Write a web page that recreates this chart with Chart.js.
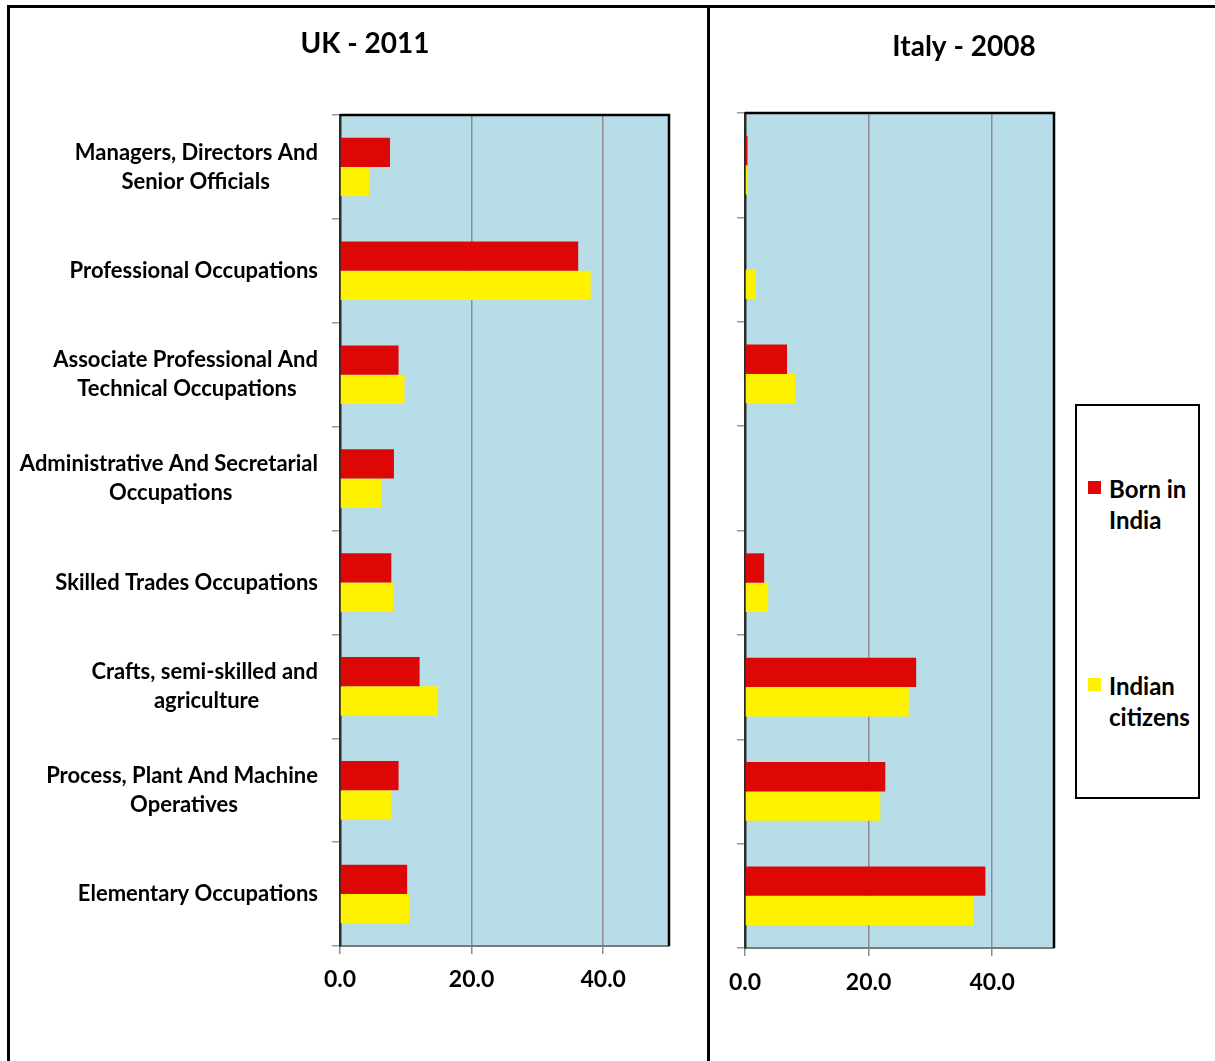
<!DOCTYPE html>
<html>
<head>
<meta charset="utf-8">
<script src="https://cdn.jsdelivr.net/npm/chart.js@4/dist/chart.umd.min.js"></script>
<style>
  html, body { margin: 0; padding: 0; background: #fff; width: 1215px; height: 1061px; overflow: hidden; }
  #ukWrap { position: absolute; left: 0; top: 0; width: 730px; height: 1061px; }
  #itWrap { position: absolute; left: 713px; top: 0; width: 502px; height: 1061px; }
  #frame { position: absolute; left: 7px; top: 5px; width: 1300px; height: 1200px;
           border-top: 3px solid #000; border-left: 3px solid #000; pointer-events: none; }
  #divider { position: absolute; left: 707px; top: 5px; width: 3px; height: 1100px; background: #000; }
  #legend { position: absolute; left: 1075px; top: 404px; width: 121px; height: 391px;
            border: 2px solid #000; background: #fff; font-family: Lato, sans-serif; }
  .swatch { position: absolute; left: 11px; width: 13px; height: 13px; }
  .ltext { position: absolute; left: 32px; font-weight: bold; font-size: 24px; line-height: 31px; color: #000; white-space: nowrap; }
</style>
</head>
<body>
<div id="ukWrap"><canvas id="uk" width="730" height="1061"></canvas></div>
<div id="itWrap"><canvas id="it" width="502" height="1061"></canvas></div>
<div id="frame"></div>
<div id="divider"></div>
<div id="legend"></div>
<script>
// Occupation groups (top to bottom)
const categories = [
  ['Managers, Directors And', 'Senior Officials'],
  'Professional Occupations',
  ['Associate Professional And', 'Technical Occupations'],
  ['Administrative And Secretarial', 'Occupations'],
  'Skilled Trades Occupations',
  ['Crafts, semi-skilled and', 'agriculture'],
  ['Process, Plant And Machine', 'Operatives'],
  'Elementary Occupations'
];

const seriesNames = ['Born in India', 'Indian citizens'];
const legendLines = [['Born in', 'India'], ['Indian', 'citizens']];

// UK - 2011 (%)
const ukBornInIndia    = [7.6, 36.2, 8.9, 8.2, 7.8, 12.1, 8.9, 10.2];
const ukIndianCitizens = [4.4, 38.1, 9.8, 6.3, 8.1, 14.9, 7.8, 10.5];

// Italy - 2008 (%)
const itBornInIndia    = [0.4, 0, 6.8, 0, 3.1, 27.7, 22.7, 38.9];
const itIndianCitizens = [0.4, 1.7, 8.1, 0, 3.75, 26.5, 21.9, 37.0];

const xTickValues = [0, 20, 40];
const xMax = 50;

const RED = '#dd0806';
const YELLOW = '#fff200';
const PLOT_BG = '#b7dde8';

const LABEL_SIZE = 22;
const TICK_SIZE = 23;
const TITLE_SIZE = 28;

Chart.defaults.font.family = 'Lato, sans-serif';
Chart.defaults.color = '#000';

// Multi-line category labels: centre each line within its own block
function centreLines(label, font) {
  if (!Array.isArray(label)) return label;
  const ctx = document.createElement('canvas').getContext('2d');
  ctx.font = font;
  const widths = label.map(l => ctx.measureText(l).width);
  const max = Math.max(...widths);
  const sp = ctx.measureText(' ').width;
  return label.map((l, i) => l + ' '.repeat(Math.round((max - widths[i]) / 2 / sp)));
}

// Light-blue plot background and black top/right edges
const plotFrame = {
  id: 'plotFrame',
  beforeDraw(chart) {
    const a = chart.chartArea, c = chart.ctx;
    c.save();
    c.fillStyle = PLOT_BG;
    c.fillRect(a.left, a.top, a.right - a.left, a.bottom - a.top);
    c.restore();
  },
  afterDraw(chart) {
    const a = chart.chartArea, c = chart.ctx;
    c.save();
    c.strokeStyle = '#000';
    c.lineWidth = 2.5;
    c.beginPath();
    c.moveTo(a.left, a.top);
    c.lineTo(a.right, a.top);
    c.lineTo(a.right, a.bottom);
    c.stroke();
    c.restore();
  }
};

function buildChart(canvasId, opts) {
  const labelFont = 'bold ' + LABEL_SIZE + 'px Lato';
  const labels = categories.map(l => centreLines(l, labelFont));
  const scales = {
    x: {
      type: 'linear',
      min: 0,
      max: xMax,
      afterBuildTicks(s) { s.ticks = xTickValues.map(v => ({ value: v })); },
      afterFit(s) { s.height = opts.xHeight; },
      grid: {
        color: ctx => (ctx.tick && ctx.tick.value === 0) ? 'rgba(0,0,0,0)' : '#8c8c8c',
        lineWidth: 1.5,
        tickColor: '#8c8c8c',
        tickLength: 8
      },
      border: { display: true, color: '#7a7a7a', width: 2 },
      ticks: {
        padding: opts.xPad,
        font: { size: TICK_SIZE, weight: 'bold', lineHeight: 1.2 },
        color: '#000',
        callback: v => Number(v).toFixed(1)
      }
    },
    y: {
      type: 'category',
      offset: true,
      afterFit(s) { s.width = opts.yWidth; },
      grid: {
        display: true,
        offset: true,
        drawOnChartArea: false,
        drawTicks: true,
        tickLength: 8,
        tickColor: '#9a9a9a',
        lineWidth: 1.5
      },
      border: { display: true, color: '#2b2b2b', width: 2.5 },
      ticks: {
        display: opts.showLabels,
        padding: 14,
        autoSkip: false,
        font: { size: LABEL_SIZE, weight: 'bold', lineHeight: 29 / LABEL_SIZE },
        color: '#000'
      }
    },
    // empty right-hand box that reserves space beside the plot
    yRight: {
      type: 'linear',
      position: 'right',
      display: true,
      grid: { display: false },
      border: { display: false },
      ticks: { display: false },
      afterFit(s) { s.width = opts.rightSpace; }
    }
  };
  return new Chart(document.getElementById(canvasId), {
    type: 'bar',
    data: {
      labels,
      datasets: [
        { label: seriesNames[0], data: opts.born, backgroundColor: RED, borderWidth: 0 },
        { label: seriesNames[1], data: opts.citizens, backgroundColor: YELLOW, borderWidth: 0 }
      ]
    },
    options: {
      indexAxis: 'y',
      responsive: false,
      animation: false,
      devicePixelRatio: 1,
      layout: { padding: 0 },
      categoryPercentage: 0.563,
      barPercentage: 1,
      plugins: {
        legend: { display: false },
        tooltip: { enabled: false },
        title: {
          display: true,
          text: opts.title,
          color: '#000',
          font: { size: TITLE_SIZE, weight: 'bold', lineHeight: 1.2 },
          padding: opts.titlePad
        }
      },
      scales
    },
    plugins: [plotFrame]
  });
}

function buildLegend(chart) {
  const box = document.getElementById('legend');
  const tops = [[75, 66.5], [272, 263.5]];
  chart.data.datasets.forEach((ds, i) => {
    const sw = document.createElement('div');
    sw.className = 'swatch';
    sw.style.top = tops[i][0] + 'px';
    sw.style.background = ds.backgroundColor;
    box.appendChild(sw);
    const tx = document.createElement('div');
    tx.className = 'ltext';
    tx.style.top = tops[i][1] + 'px';
    tx.innerHTML = legendLines[i].join('<br>');
    box.appendChild(tx);
  });
}

function init() {
  buildChart('uk', {
    title: 'UK - 2011',
    born: ukBornInIndia,
    citizens: ukIndianCitizens,
    titlePad: { top: 27.2, bottom: 54.2 },
    yWidth: 340,
    rightSpace: 61,
    xHeight: 115,
    xPad: 12,
    showLabels: true
  });
  const it = buildChart('it', {
    title: 'Italy - 2008',
    born: itBornInIndia,
    citizens: itIndianCitizens,
    titlePad: { top: 30.2, bottom: 49.2 },
    yWidth: 32,
    rightSpace: 161,
    xHeight: 113,
    xPad: 13,
    showLabels: false
  });
  buildLegend(it);
}

if (document.fonts && document.fonts.load) {
  Promise.all([
    document.fonts.load('bold 22px Lato'),
    document.fonts.load('bold 28px Lato')
  ]).then(init, init);
} else {
  init();
}
</script>
</body>
</html>
